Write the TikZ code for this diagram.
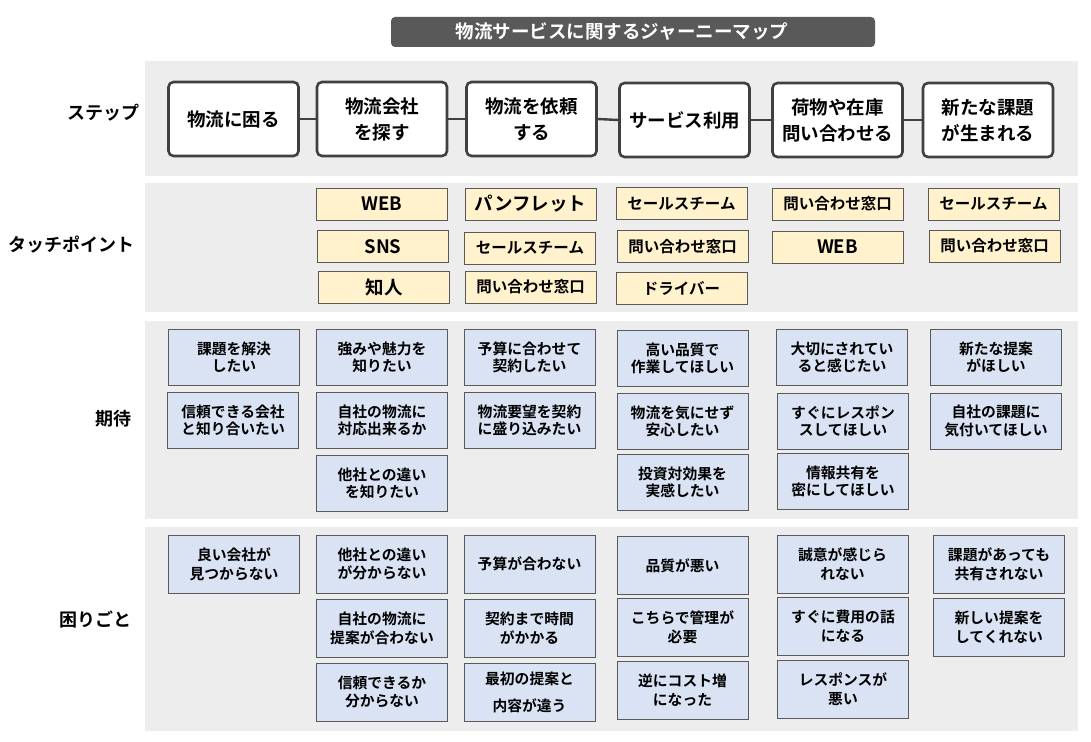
\documentclass[tikz,border=0pt]{standalone}
\usepackage{fontspec}
\setmainfont{Noto Sans CJK JP}[BoldFont={Noto Sans CJK JP Bold}]
\usepackage{tikz}
\definecolor{bandGray}{RGB}{237, 237, 237}
\definecolor{titleGray}{RGB}{89, 89, 89}
\definecolor{stepGray}{RGB}{64, 64, 64}
\definecolor{edgeGray}{RGB}{89, 89, 89}
\definecolor{tpYellow}{RGB}{255, 242, 204}
\definecolor{cardBlue}{RGB}{218, 227, 243}

\begin{document}
\begin{tikzpicture}[x=1pt, y=-1pt,
    rowlabel/.style={font=\fontsize{18}{22}\selectfont\bfseries, inner sep=0pt},
    stepbox/.style={draw=stepGray, line width=2.6pt, rounded corners=5pt, fill=white,
      minimum width=130pt, minimum height=74pt, align=center, inner sep=0pt,
      font=\fontsize{18.5}{26}\selectfont\bfseries},
    stepline/.style={draw=stepGray, line width=2.4pt},
    tpbox/.style={draw=edgeGray, line width=0.9pt, fill=tpYellow,
      minimum width=131pt, minimum height=32pt, inner sep=0pt,
      font=\fontsize{15.5}{18}\selectfont\bfseries},
    tpbig/.style={tpbox, font=\fontsize{18.5}{20}\selectfont\bfseries},
    wishbox/.style={draw=edgeGray, line width=0.9pt, fill=cardBlue,
      minimum width=131pt, minimum height=56pt, align=center, inner sep=0pt,
      font=\fontsize{14.8}{17.2}\selectfont\bfseries},
    painbox/.style={wishbox, minimum height=58pt,
      font=\fontsize{14.8}{18.8}\selectfont\bfseries}]
  \useasboundingbox (0,0) rectangle (1091,741);

  % Title bar
  \fill[titleGray, rounded corners=4pt] (391,17) rectangle (875,47);
  \node[text=white, font=\fontsize{18.5}{20}\selectfont\bfseries] (title) at (622,32) {物流サービスに関するジャーニーマップ};

  % Gray bands behind each row
  \fill[bandGray] (145,61) rectangle (1078,176);
  \fill[bandGray] (145,183) rectangle (1078,312);
  \fill[bandGray] (145,321) rectangle (1078,519);
  \fill[bandGray] (145,527) rectangle (1078,731);

  % Row labels
  \node[rowlabel] (lstep) at (103.5,113) {ステップ};
  \node[rowlabel] (ltouch) at (71.5,245) {タッチポイント};
  \node[rowlabel] (lwish) at (113.5,419) {期待};
  \node[rowlabel] (lpain) at (95.5,620) {困りごと};

  % Steps
  \node[stepbox] (s1) at (233.5,119) {物流に困る};
  \node[stepbox] (s2) at (382,119) {物流会社\\を探す};
  \node[stepbox] (s3) at (531.5,119) {物流を依頼\\する};
  \node[stepbox] (s4) at (684.5,120) {サービス利用};
  \node[stepbox] (s5) at (837.5,120) {荷物や在庫\\問い合わせる};
  \node[stepbox] (s6) at (988,120) {新たな課題\\が生まれる};
  \draw[stepline] (s1.east) -- (s2.west);
  \draw[stepline] (s2.east) -- (s3.west);
  \draw[stepline] (s3.east) -- (s4.west);
  \draw[stepline] (s4.east) -- (s5.west);
  \draw[stepline] (s5.east) -- (s6.west);

  % Touch points
  \node[tpbig] (t21) at (382,204) {WEB};
  \node[tpbig] (t22) at (383,246.5) {SNS};
  \node[tpbig] (t23) at (384,287) {知人};
  \node[tpbig] (t31) at (530.5,204) {パンフレット};
  \node[tpbox] (t32) at (530,248) {セールスチーム};
  \node[tpbox] (t33) at (530.5,287) {問い合わせ窓口};
  \node[tpbox] (t41) at (681.5,203.5) {セールスチーム};
  \node[tpbox] (t42) at (682.5,246.5) {問い合わせ窓口};
  \node[tpbox] (t43) at (681.5,288) {ドライバー};
  \node[tpbox] (t51) at (837.5,204) {問い合わせ窓口};
  \node[tpbig] (t52) at (837.5,247) {WEB};
  \node[tpbox] (t61) at (993.5,204) {セールスチーム};
  \node[tpbox] (t62) at (994.5,246) {問い合わせ窓口};

  % Expectations
  \node[wishbox] (e11) at (234,357) {課題を解決\\したい};
  \node[wishbox] (e12) at (233,420) {信頼できる会社\\と知り合いたい};
  \node[wishbox] (e21) at (382,357) {強みや魅力を\\知りたい};
  \node[wishbox] (e22) at (382,420) {自社の物流に\\対応出来るか};
  \node[wishbox] (e23) at (382,483) {他社との違い\\を知りたい};
  \node[wishbox] (e31) at (529.5,357) {予算に合わせて\\契約したい};
  \node[wishbox] (e32) at (529.5,420) {物流要望を契約\\に盛り込みたい};
  \node[wishbox] (e41) at (682.5,358) {高い品質で\\作業してほしい};
  \node[wishbox] (e42) at (682.5,421) {物流を気にせず\\安心したい};
  \node[wishbox] (e43) at (682.5,482.5) {投資対効果を\\実感したい};
  \node[wishbox] (e51) at (842,357) {大切にされてい\\ると感じたい};
  \node[wishbox] (e52) at (843,421) {すぐにレスポン\\スしてほしい};
  \node[wishbox] (e53) at (843,481.5) {情報共有を\\密にしてほしい};
  \node[wishbox] (e61) at (996,357) {新たな提案\\がほしい};
  \node[wishbox] (e62) at (996,421) {自社の課題に\\気付いてほしい};

  % Troubles
  \node[painbox] (p11) at (234,564) {良い会社が\\見つからない};
  \node[painbox] (p21) at (382,564) {他社との違い\\が分からない};
  \node[painbox] (p22) at (382,628) {自社の物流に\\提案が合わない};
  \node[painbox] (p23) at (382,692) {信頼できるか\\分からない};
  \node[painbox] (p31) at (529.5,564) {予算が合わない};
  \node[painbox] (p32) at (529.5,628) {契約まで時間\\がかかる};
  \node[painbox] (p33) at (529.5,692) {最初の提案と\\[8pt]内容が違う};
  \node[painbox] (p41) at (682.5,565.5) {品質が悪い};
  \node[painbox] (p42) at (682.5,627.5) {こちらで管理が\\必要};
  \node[painbox] (p43) at (682.5,690) {逆にコスト増\\になった};
  \node[painbox] (p51) at (842.5,564) {誠意が感じら\\れない};
  \node[painbox] (p52) at (843,626) {すぐに費用の話\\になる};
  \node[painbox] (p53) at (843,689) {レスポンスが\\悪い};
  \node[painbox] (p61) at (999,564) {課題があっても\\共有されない};
  \node[painbox] (p62) at (999,627.5) {新しい提案を\\してくれない};
\end{tikzpicture}
\end{document}
